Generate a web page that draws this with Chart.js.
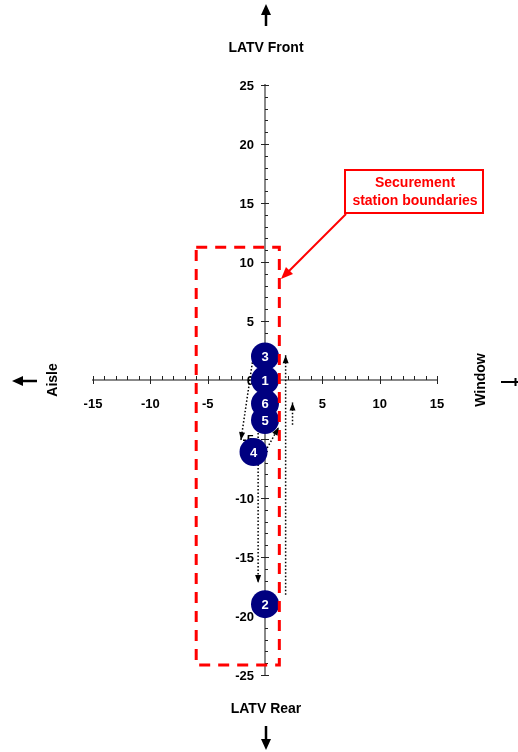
<!DOCTYPE html>
<html>
<head>
<meta charset="utf-8">
<script src="https://cdn.jsdelivr.net/npm/chart.js@4.4.0/dist/chart.umd.min.js"></script>
<style>
  html, body { margin: 0; padding: 0; background: #fff; }
  #wrap { width: 518px; height: 752px; position: relative; }
</style>
</head>
<body>
<div id="wrap"><canvas id="seatChart"></canvas></div>
<script>
// occupant positions (inches), numbered 1..6
const pointLabels = ['1', '2', '3', '4', '5', '6'];
const pointX = [0, 0, 0, -1, 0, 0];
const pointY = [0, -19, 2, -6.1, -3.4, -2];

// dotted movement arrows: [startX, startY, endX, endY]
const arrowStartX = [-1.1, -0.4, -0.6, 1.8, 2.4];
const arrowStartY = [1.5, -6.8, -3.0, -18.2, -3.8];
const arrowEndX = [-2.1, 1.2, -0.6, 1.8, 2.4];
const arrowEndY = [-5.1, -4.0, -17.2, 2.1, -1.9];

// securement station boundary box corners
const boundaryX = [-6, 1.25, 1.25, -6, -6];
const boundaryY = [11.25, 11.25, -24.15, -24.15, 11.25];

const xTicks = [-15, -10, -5, 0, 5, 10, 15];
const yTicks = [-25, -20, -15, -10, -5, 0, 5, 10, 15, 20, 25];

const FONT = "'Liberation Sans', Arial, sans-serif";

const points = pointX.map((x, i) => ({ x: x, y: pointY[i] }));

const arrowSets = arrowStartX.map((sx, i) => ({
  type: 'line',
  data: [{ x: sx, y: arrowStartY[i] }, { x: arrowEndX[i], y: arrowEndY[i] }],
  borderColor: '#000',
  borderWidth: 1.5,
  borderDash: [1.5, 2],
  pointRadius: 0,
  fill: false,
  order: 2
}));

function arrowHead(ctx, x1, y1, x2, y2, len, half, color) {
  const a = Math.atan2(y2 - y1, x2 - x1);
  ctx.save();
  ctx.fillStyle = color;
  ctx.beginPath();
  ctx.moveTo(x2, y2);
  ctx.lineTo(x2 - len * Math.cos(a) + half * Math.sin(a), y2 - len * Math.sin(a) - half * Math.cos(a));
  ctx.lineTo(x2 - len * Math.cos(a) - half * Math.sin(a), y2 - len * Math.sin(a) + half * Math.cos(a));
  ctx.closePath();
  ctx.fill();
  ctx.restore();
}

function solidArrow(ctx, x1, y1, x2, y2, w, len, half, color) {
  const a = Math.atan2(y2 - y1, x2 - x1);
  ctx.save();
  ctx.strokeStyle = color;
  ctx.lineWidth = w;
  ctx.beginPath();
  ctx.moveTo(x1, y1);
  ctx.lineTo(x2 - (len - 1) * Math.cos(a), y2 - (len - 1) * Math.sin(a));
  ctx.stroke();
  ctx.restore();
  arrowHead(ctx, x1, y1, x2, y2, len, half, color);
}

const decorations = {
  id: 'decorations',
  beforeDatasetsDraw(chart) {
    // minor and major tick marks across the centred axes
    const ctx = chart.ctx;
    const xs = chart.scales.x, ys = chart.scales.y;
    const x0 = xs.getPixelForValue(0), y0 = ys.getPixelForValue(0);
    ctx.save();
    ctx.strokeStyle = '#222';
    ctx.lineWidth = 1;
    ctx.beginPath();
    for (let v = -15; v <= 15; v++) {
      const px = Math.round(xs.getPixelForValue(v)) + 0.5;
      if (v % 5 === 0) { ctx.moveTo(px, y0 - 4); ctx.lineTo(px, y0 + 4); }
      else { ctx.moveTo(px, y0 - 4); ctx.lineTo(px, y0); }
    }
    for (let v = -25; v <= 25; v++) {
      const py = Math.round(ys.getPixelForValue(v)) + 0.5;
      if (v % 5 === 0) { ctx.moveTo(x0 - 4, py); ctx.lineTo(x0 + 4, py); }
      else { ctx.moveTo(x0, py); ctx.lineTo(x0 + 3, py); }
    }
    ctx.stroke();

    // y tick labels, left of the centred axis
    ctx.fillStyle = '#000';
    ctx.font = 'bold 13px ' + FONT;
    ctx.textAlign = 'right';
    ctx.textBaseline = 'middle';
    yTicks.forEach(v => ctx.fillText(String(v), x0 - 11, ys.getPixelForValue(v) + 1));
    ctx.restore();
  },
  afterDatasetsDraw(chart) {
    const ctx = chart.ctx;
    const xs = chart.scales.x, ys = chart.scales.y;
    const px = v => xs.getPixelForValue(v);
    const py = v => ys.getPixelForValue(v);

    // heads of the dotted arrows
    arrowStartX.forEach((sx, i) => {
      arrowHead(ctx, px(sx), py(arrowStartY[i]), px(arrowEndX[i]), py(arrowEndY[i]), 8, 3, '#000');
    });

    // numbers on the circles
    ctx.save();
    ctx.fillStyle = '#fff';
    ctx.font = 'bold 13px ' + FONT;
    ctx.textAlign = 'center';
    ctx.textBaseline = 'middle';
    points.forEach((p, i) => ctx.fillText(pointLabels[i], px(p.x), py(p.y) + 1));
    ctx.restore();

    // axis direction titles
    const cx = px(0), cy = py(0);
    ctx.save();
    ctx.fillStyle = '#000';
    ctx.font = 'bold 14px ' + FONT;
    ctx.textAlign = 'center';
    ctx.textBaseline = 'middle';
    ctx.fillText('LATV Front', cx + 1, 48);
    ctx.fillText('LATV Rear', cx + 1, 709);
    ctx.save();
    ctx.translate(53, cy);
    ctx.rotate(-Math.PI / 2);
    ctx.fillText('Aisle', 0, 0);
    ctx.restore();
    ctx.save();
    ctx.translate(481, cy);
    ctx.rotate(-Math.PI / 2);
    ctx.fillText('Window', 0, 0);
    ctx.restore();
    ctx.restore();

    solidArrow(ctx, cx + 1, 26, cx + 1, 4, 2.5, 11, 5, '#000');
    solidArrow(ctx, cx + 1, 726, cx + 1, 750, 2.5, 11, 5, '#000');
    solidArrow(ctx, 37, cy + 1, 12, cy + 1, 2.5, 11, 5, '#000');
    ctx.save();
    ctx.strokeStyle = '#000';
    ctx.lineWidth = 2;
    ctx.beginPath();
    ctx.moveTo(501, cy + 2); ctx.lineTo(518, cy + 2);
    ctx.moveTo(515.5, cy - 2); ctx.lineTo(515.5, cy + 6);
    ctx.stroke();
    ctx.restore();

    // callout for the boundary box
    ctx.save();
    ctx.fillStyle = '#fff';
    ctx.fillRect(345, 170, 138, 43);
    ctx.strokeStyle = '#ff0000';
    ctx.lineWidth = 2;
    ctx.strokeRect(345, 170, 138, 43);
    ctx.fillStyle = '#ff0000';
    ctx.font = 'bold 14px ' + FONT;
    ctx.textAlign = 'center';
    ctx.textBaseline = 'middle';
    ctx.fillText('Securement', 415, 183);
    ctx.fillText('station boundaries', 415, 201);
    ctx.restore();
    solidArrow(ctx, 346, 214, 281, 279, 2, 12, 5, '#ff0000');
  }
};

new Chart(document.getElementById('seatChart'), {
  type: 'scatter',
  data: {
    datasets: [
      {
        type: 'line',
        data: boundaryX.map((x, i) => ({ x: x, y: boundaryY[i] })),
        borderColor: '#ff0000',
        borderWidth: 3,
        borderDash: [11, 8],
        pointRadius: 0,
        fill: false,
        order: 0
      },
      {
        data: points,
        backgroundColor: '#000080',
        borderWidth: 0,
        pointRadius: 14,
        pointHoverRadius: 14,
        order: 1
      },
      ...arrowSets
    ]
  },
  options: {
    responsive: true,
    maintainAspectRatio: false,
    animation: false,
    events: [],
    layout: { padding: { left: 93, right: 81, top: 85, bottom: 77 } },
    plugins: { legend: { display: false }, tooltip: { enabled: false } },
    scales: {
      x: {
        type: 'linear',
        position: { y: 0 },
        min: -15,
        max: 15,
        afterBuildTicks: s => { s.ticks = xTicks.map(v => ({ value: v })); },
        grid: { display: false, drawTicks: false },
        border: { display: true, color: '#888', width: 2 },
        ticks: {
          padding: 17,
          color: '#000',
          font: { family: FONT, size: 13, weight: 'bold' },
          maxRotation: 0,
          autoSkip: false
        }
      },
      y: {
        type: 'linear',
        position: { x: 0 },
        min: -25,
        max: 25,
        afterBuildTicks: s => { s.ticks = yTicks.map(v => ({ value: v })); },
        grid: { display: false, drawTicks: false },
        border: { display: true, color: '#888', width: 2 },
        ticks: { display: false }
      }
    }
  },
  plugins: [decorations]
});
</script>
</body>
</html>
